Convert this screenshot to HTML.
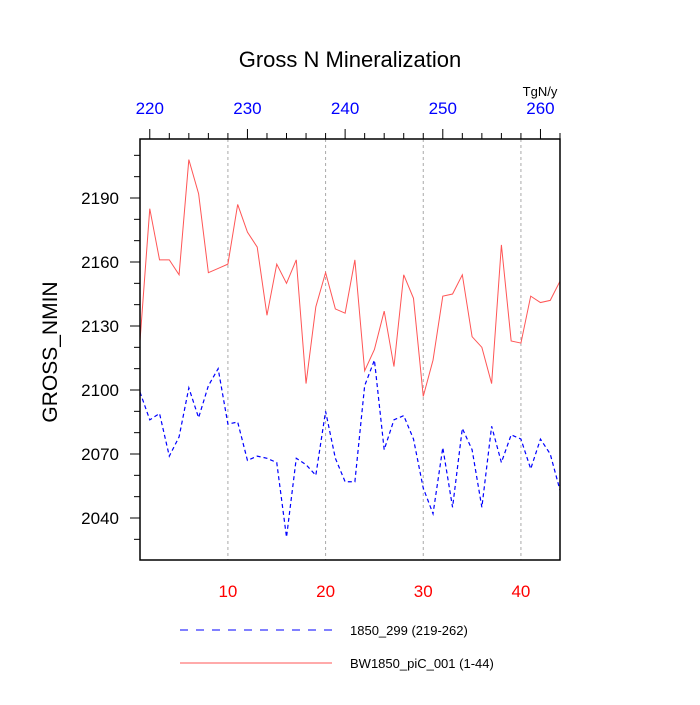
<!DOCTYPE html>
<html><head><meta charset="utf-8"><style>
body{margin:0;background:#fff;}
svg text{font-family:"Liberation Sans",sans-serif;}
</style></head><body>
<svg id="chart" width="700" height="700" viewBox="0 0 700 700" xmlns="http://www.w3.org/2000/svg">
<text x="350" y="67" text-anchor="middle" font-size="22">Gross N Mineralization</text>
<text x="540" y="96" text-anchor="middle" font-size="13">TgN/y</text>
<text transform="translate(57,352) rotate(-90)" text-anchor="middle" font-size="21">GROSS_NMIN</text>
<g id="grid"></g>
<g id="series"></g>
<g id="axes"></g>
<g id="legend">
<line x1="180" y1="630" x2="332" y2="630" stroke="#0000ff" stroke-dasharray="8,8" stroke-width="1"/>
<text x="350" y="635" font-size="13">1850_299 (219-262)</text>
<line x1="180" y1="663" x2="332" y2="663" stroke="#ff5555" stroke-width="1"/>
<text x="350" y="668" font-size="13">BW1850_piC_001 (1-44)</text>
</g>
</svg>
<script>
const years = Array.from({length:44},(_,i)=>i+1);
const redSeries = [2123,2185,2161,2161,2154,2208,2192,2155,2157,2159,2187,2174,2167,2135,2159,2150,2161,2103,2139,2155,2138,2136,2161,2109,2119,2137,2111,2154,2143,2097,2114,2144,2145,2154,2125,2120,2103,2168,2123,2122,2144,2141,2142,2151];
const blueSeries = [2099,2086,2089,2069,2078,2101,2087,2102,2110,2084,2085,2067,2069,2068,2066,2031,2068,2065,2060,2090,2068,2057,2057,2102,2114,2072,2086,2088,2077,2054,2042,2073,2045,2082,2072,2045,2083,2066,2079,2077,2063,2077,2070,2053];
const bottomTicks = [10,20,30,40];
const topTicks = [220,230,240,250,260];
const yTicks = [2040,2070,2100,2130,2160,2190];
const topOffset = 218;
const NS="http://www.w3.org/2000/svg";
const L=140,R=560,T=139,B=560;
const xs=v=>L+(v-1)*(R-L)/43;
const ys=v=>198+(2190-v)*64/30;
function mk(tag,attrs,parent){const e=document.createElementNS(NS,tag);for(const k in attrs)e.setAttribute(k,attrs[k]);parent.appendChild(e);return e;}
const grid=document.getElementById('grid'),axes=document.getElementById('axes'),ser=document.getElementById('series');
bottomTicks.forEach(t=>{
  const g=mk('line',{x1:xs(t),x2:xs(t),y1:T,y2:B,stroke:'#aaa','stroke-dasharray':'3,3','stroke-width':1},grid);
  
  
  const tx=mk('text',{x:xs(t),y:597,'text-anchor':'middle','font-size':17,fill:'#ff0000'},axes);
  tx.textContent=t;
  
  
});
for(let y=210;y<=264;y+=2){
  const x=xs(y-topOffset);if(x<L-0.5||x>R+0.5)continue;
  const major=y%10===0;
  const tk=mk('line',{x1:x,x2:x,y1:T,y2:T-(major?10:6),stroke:'#000','stroke-width':1},axes);
  
  
}
topTicks.forEach(t=>{
  const tx=mk('text',{x:xs(t-topOffset),y:114,'text-anchor':'middle','font-size':17,fill:'#0000ff'},axes);
  tx.textContent=t;
  
  
});
for(let v=2020;v<=2220;v+=10){
  const y=ys(v);if(y<T||y>B)continue;
  const major=(v-2040)%30===0;
  const tk=mk('line',{x1:L,x2:L-(major?10:6),y1:y,y2:y,stroke:'#000','stroke-width':1},axes);
  
  
}
yTicks.forEach(v=>{
  const tx=mk('text',{x:119,y:ys(v)+6,'text-anchor':'end','font-size':17},axes);
  tx.textContent=v;
  
  
});
const fr=mk('rect',{x:L,y:T,width:R-L,height:B-T,fill:'none',stroke:'#000','stroke-width':1.5},axes);


const rp=mk('polyline',{points:years.map((x,i)=>xs(x)+','+ys(redSeries[i])).join(' '),fill:'none',stroke:'#ff5555','stroke-width':1},ser);


const bp=mk('polyline',{points:years.map((x,i)=>xs(x)+','+ys(blueSeries[i])).join(' '),fill:'none',stroke:'#0000ff','stroke-width':1.2,'stroke-dasharray':'4,3'},ser);


</script>
</body></html>
